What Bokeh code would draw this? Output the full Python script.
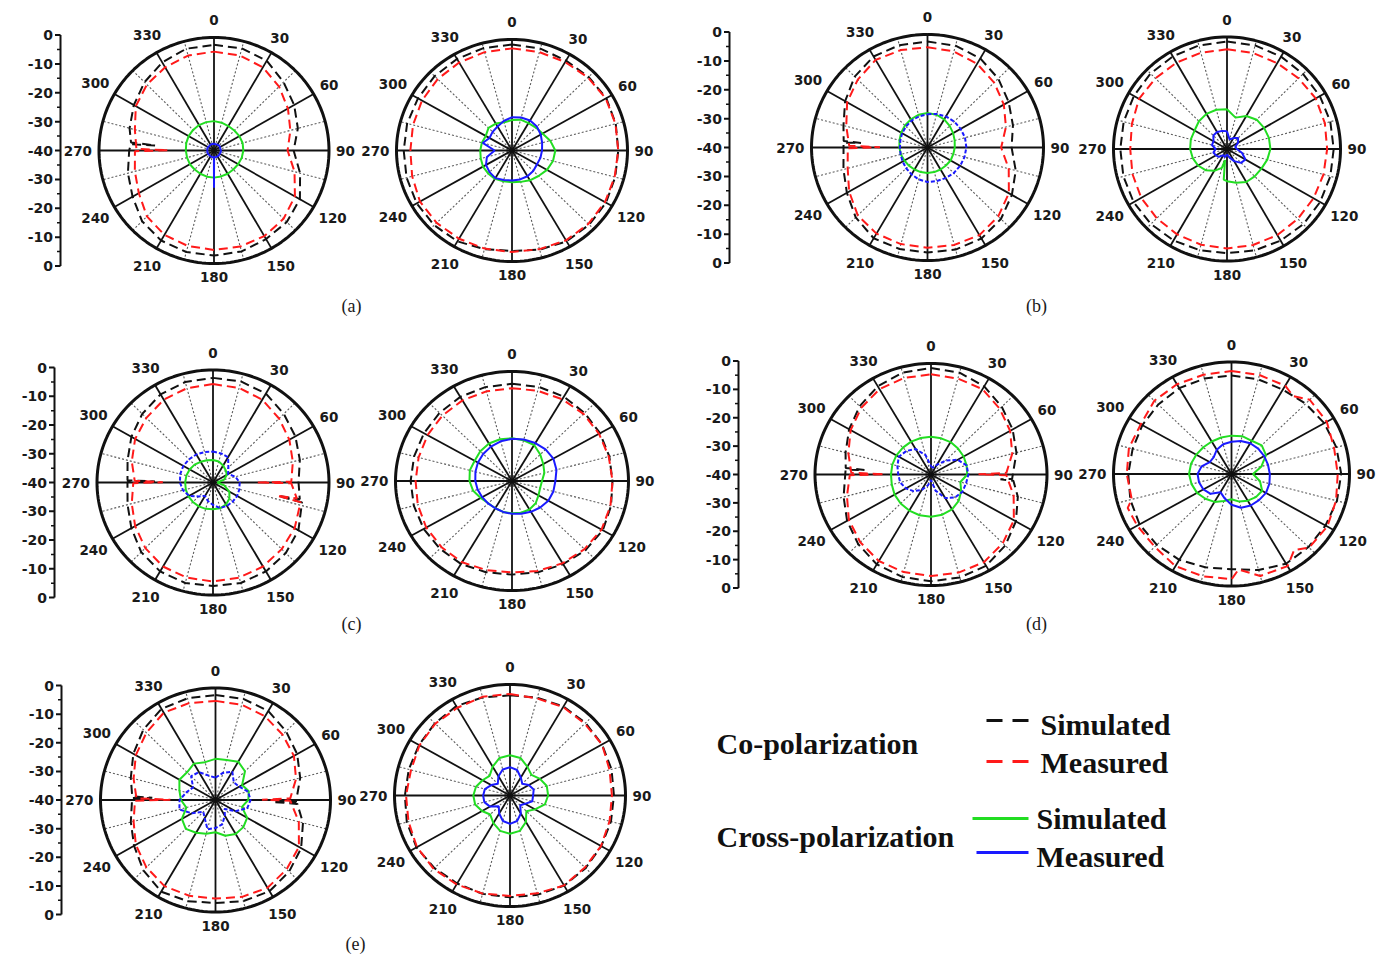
import math
from bokeh.plotting import figure
from bokeh.models import Range1d
from bokeh.core.properties import value
from bokeh.embed import file_html
from bokeh.resources import INLINE

# ---------------- data ----------------
ANGLES = list(range(0, 360, 15))          # degrees, clockwise from top
R_TICKS = [0, -10, -20, -30, -40]         # dB radial ticks
ANGLE_TICKS = list(range(0, 360, 30))
PANEL_LABELS = ["(a)", "(b)", "(c)", "(d)", "(e)"]
GROUPS = ["Co-polarization", "Cross-polarization"]
SERIES = ["Simulated", "Measured"]

# (a) left
A1_CO_SIM = [-2.6, -2.6, -3.3, -5.8, -7.8, -9.8, -12.3, -9.0, -5.5, -4.2, -3.8, -3.0,
             -2.8, -2.8, -3.2, -4.6, -7.3, -9.0, -10.5, -9.6, -7.8, -5.8, -4.0, -2.7]
A1_CO_SIM_NULL = ([274.4, 275, 275.6], [-11.0, -19.6, -11.0])
A1_CO_MEAS = [-5.0, -5.2, -6.0, -8.0, -10.3, -12.5, -14.4, -11.0, -7.5, -5.8, -5.0, -4.8,
              -4.8, -5.0, -5.5, -7.0, -9.8, -11.5, -12.5, -11.5, -8.6, -7.0, -6.0, -5.2]
A1_CO_MEAS_NULL = ([269.5, 270.3, 271.3], [-12.5, -24.0, -13.0])
A1_X_SIM = [-29.6, -29.8, -30.0, -30.0, -29.8, -29.7, -29.8, -30.0, -30.3, -30.5, -30.5, -30.5,
            -30.4, -30.4, -30.5, -30.5, -30.3, -30.3, -30.2, -30.0, -29.8, -29.7, -29.6, -29.6]
A1_X_MEAS = [-37.6, -37.7, -37.6, -37.5, -37.6, -37.7, -37.6, -37.6, -37.7, -37.6, -37.6, -37.6,
             -37.6, -37.6, -37.6, -37.7, -37.6, -37.6, -37.7, -37.6, -37.6, -37.7, -37.6, -37.6]
A1_X_MEAS_NULL = ([179.3, 180, 180.7], [-37.6, -26.8, -37.6])

# (a) right
A2_CO_SIM = [-1.8, -2.0, -2.6, -2.5, -2.3, -2.8, -3.2, -3.0, -2.4, -2.2, -2.2, -3.0,
             -3.8, -3.2, -2.2, -1.9, -1.9, -2.2, -2.5, -2.4, -2.4, -2.1, -1.9, -1.8]
A2_CO_MEAS = [-3.2, -3.3, -3.2, -2.8, -2.5, -2.9, -3.2, -3.2, -2.8, -2.6, -2.6, -3.2,
              -3.4, -3.4, -3.3, -3.1, -3.2, -4.2, -4.8, -4.5, -4.0, -3.6, -3.4, -3.3]
A2_X_SIM = [-29.0, -28.5, -28.6, -28.3, -27.8, -26.3, -25.0, -25.3, -26.0, -27.0, -27.6, -28.3,
            -28.6, -28.5, -28.2, -28.3, -28.4, -28.8, -29.0, -29.2, -29.5, -28.5, -28.8, -29.5]
A2_X_MEAS = [-28.0, -27.7, -27.5, -27.8, -28.5, -29.2, -29.6, -29.8, -30.0, -29.6, -29.3, -29.2,
             -29.2, -29.0, -28.5, -29.0, -29.6, -31.0, -34.0, -29.5, -31.0, -30.5, -30.0, -29.0]

# (b) left
B1_CO_SIM = [-2.5, -2.7, -3.6, -5.5, -7.7, -9.5, -11.0, -8.5, -6.4, -4.2, -2.8, -2.6,
             -2.8, -2.8, -2.9, -5.0, -7.9, -10.0, -11.0, -10.0, -7.2, -4.5, -2.8, -2.5]
B1_CO_SIM_NULL = ([273.4, 274, 274.6], [-11.0, -17.0, -11.0])
B1_CO_MEAS = [-4.5, -4.8, -5.8, -7.5, -9.6, -12.0, -14.6, -11.0, -7.6, -5.5, -4.2, -4.3,
              -4.5, -4.6, -4.8, -6.0, -8.8, -11.5, -12.5, -11.0, -8.0, -6.0, -4.2, -4.3]
B1_CO_MEAS_NULL = ([269.5, 270.3, 271.3], [-12.5, -23.6, -13.0])
B1_X_SIM = [-27.8, -28.0, -28.5, -29.2, -29.8, -30.3, -30.6, -30.8, -30.8, -31.0, -31.0, -31.0,
            -31.0, -31.0, -31.0, -30.9, -30.8, -30.5, -30.3, -30.0, -29.5, -29.0, -28.5, -28.0]
B1_X_MEAS = [-28.2, -27.7, -27.3, -27.0, -26.8, -26.6, -26.6, -26.8, -27.0, -27.2, -27.5, -27.7,
             -27.8, -28.3, -29.0, -29.6, -30.1, -30.4, -30.5, -30.3, -29.9, -29.5, -29.0, -28.6]

# (b) right
B2_CO_SIM = [-1.6, -1.7, -1.9, -2.1, -2.2, -2.3, -2.4, -2.3, -2.1, -2.0, -2.2, -2.5,
             -2.8, -2.6, -2.3, -2.1, -2.0, -2.2, -2.4, -2.3, -2.1, -1.9, -1.8, -1.7]
B2_CO_MEAS = [-4.4, -4.5, -4.6, -4.3, -3.9, -4.3, -4.7, -4.8, -4.8, -4.7, -4.5, -4.5,
              -4.5, -4.6, -4.8, -5.0, -5.1, -5.5, -5.9, -5.3, -4.2, -4.3, -4.4, -4.4]
B2_X_SIM = [-25.8, -28.4, -26.4, -25.2, -24.9, -24.7, -24.7, -25.3, -26.0, -26.2, -26.4, -27.5,
            -28.5, -33.0, -31.0, -29.3, -28.2, -27.5, -27.0, -26.8, -26.8, -26.0, -25.5, -25.5]
B2_X_SIM_NULL = ([186, 190], [-29.0, -36.0])
B2_X_MEAS = [-33.7, -36.5, -35.5, -34.5, -35.5, -37.0, -36.5, -34.5, -32.5, -33.0, -35.0, -37.0,
             -38.0, -37.0, -37.5, -36.0, -35.5, -35.0, -36.0, -34.5, -34.5, -33.2, -33.0, -33.3]

# (c) left
C1_CO_SIM = [-2.8, -2.8, -3.5, -5.5, -7.2, -9.0, -10.5, -8.0, -6.0, -4.5, -3.5, -3.0,
             -3.2, -3.0, -3.5, -5.0, -7.5, -9.5, -10.5, -9.5, -7.5, -5.5, -3.8, -3.0]
C1_CO_SIM_NULL = ([101.2, 102, 103, 270.4, 271, 271.6], [-9.5, -17.0, -8.5, -10.5, -20.0, -10.5])
C1_CO_MEAS = [-5.0, -5.2, -6.0, -7.8, -9.6, -11.5, -13.0, -10.0, -7.5, -6.5, -5.5, -5.0,
              -4.8, -5.0, -5.5, -7.0, -9.0, -11.0, -12.5, -11.0, -9.0, -7.5, -6.0, -5.3]
C1_CO_MEAS_NULL = ([89.4, 90, 90.6, 101.2, 102, 103, 269.5, 270.3, 271.3],
                   [-13.0, -25.0, -13.0, -10.5, -17.5, -9.0, -12.5, -22.7, -13.0])
C1_X_SIM = [-32.0, -32.3, -33.0, -33.8, -34.5, -36.0, -38.5, -36.0, -33.5, -32.0, -31.0, -30.5,
            -30.5, -30.3, -30.2, -30.2, -30.2, -30.3, -30.4, -30.5, -30.7, -31.0, -31.5, -31.8]
C1_X_MEAS = [-29.0, -29.3, -29.6, -32.5, -34.0, -32.0, -30.8, -30.6, -30.4, -30.4, -30.4, -30.6,
             -32.0, -33.2, -34.5, -33.0, -30.5, -29.3, -28.6, -28.3, -28.2, -28.3, -28.5, -28.8]

# (c) right
C2_CO_SIM = [-4.5, -4.4, -4.4, -4.8, -5.1, -5.4, -5.5, -4.8, -4.0, -4.3, -4.9, -5.5,
             -5.8, -5.5, -5.0, -5.0, -5.0, -5.1, -5.2, -5.2, -5.1, -4.8, -4.5, -4.5]
C2_CO_MEAS = [-6.1, -5.9, -5.5, -5.3, -5.5, -5.6, -5.5, -5.0, -4.5, -4.8, -5.3, -6.0,
              -6.6, -6.3, -5.7, -5.8, -6.0, -6.5, -6.9, -6.8, -6.5, -6.2, -6.0, -6.1]
C2_X_SIM = [-24.4, -24.6, -24.8, -26.3, -27.6, -28.5, -29.7, -30.0, -29.5, -28.5, -28.0, -28.0,
            -28.2, -28.3, -28.5, -28.5, -27.6, -26.2, -25.4, -25.0, -25.2, -24.6, -24.2, -24.2]
C2_X_MEAS = [-24.6, -24.3, -24.0, -23.7, -23.6, -24.2, -25.1, -25.3, -25.6, -26.3, -27.0, -27.6,
             -28.0, -28.3, -28.5, -28.4, -28.2, -27.8, -27.4, -27.0, -26.5, -26.0, -25.5, -25.0]

# (d) left
D1_CO_SIM = [-1.6, -2.0, -3.3, -5.5, -7.5, -9.5, -12.0, -9.0, -6.2, -3.8, -2.0, -1.6,
             -1.5, -1.8, -2.6, -4.5, -6.6, -8.8, -10.5, -9.5, -7.4, -5.2, -3.3, -2.0]
D1_CO_SIM_NULL = ([93.4, 94, 94.6, 273.4, 274, 274.6], [-12.0, -16.0, -11.5, -10.5, -17.0, -10.5])
D1_CO_MEAS = [-3.9, -4.2, -4.5, -6.5, -8.5, -11.0, -14.0, -10.5, -7.0, -5.0, -3.5, -3.4,
              -3.4, -3.6, -4.0, -5.5, -7.3, -10.0, -12.0, -10.5, -8.0, -6.0, -4.5, -4.0]
D1_CO_MEAS_NULL = ([88.7, 89.7, 90.5, 269.5, 270.3, 271.3],
                   [-14.0, -23.6, -14.0, -12.0, -24.0, -12.5])
D1_X_SIM = [-26.4, -26.5, -26.5, -26.8, -27.0, -27.3, -27.5, -29.5, -28.0, -26.5, -25.5, -25.0,
            -24.8, -24.8, -25.0, -25.2, -25.5, -26.0, -26.2, -26.2, -26.2, -26.3, -26.3, -26.4]
D1_X_MEAS = [-37.0, -37.5, -36.0, -32.9, -29.4, -27.3, -27.1, -27.5, -27.5, -28.3, -30.2, -34.0,
             -38.0, -36.0, -33.6, -31.5, -30.0, -29.0, -28.7, -28.0, -27.2, -28.0, -29.4, -32.8]

# (d) right
D2_CO_SIM = [-4.8, -5.0, -5.2, -4.5, -3.7, -3.2, -2.8, -3.0, -3.2, -3.1, -3.0, -4.5,
             -6.0, -5.5, -4.6, -4.2, -4.0, -4.5, -5.0, -5.3, -5.1, -4.9, -4.6, -4.7]
D2_CO_MEAS = [-3.2, -3.4, -3.6, -2.5, -2.7, -4.0, -4.0, -3.3, -2.5, -2.8, -2.0, -2.3,
              -2.4, -2.2, -2.0, -3.2, -3.1, -5.0, -4.5, -4.0, -4.5, -3.0, -3.0, -3.3]
D2_CO_MEAS_NULL = ([37, 142, 176, 251], [-5.2, -5.5, -5.8, -2.8])
D2_X_SIM = [-26.3, -26.0, -26.3, -25.5, -26.5, -29.5, -32.7, -30.0, -28.0, -28.3, -29.0, -29.8,
            -31.0, -30.0, -28.5, -27.5, -26.5, -26.0, -25.6, -25.8, -26.2, -26.5, -26.6, -26.5]
D2_X_MEAS = [-28.5, -27.8, -27.3, -27.2, -27.2, -27.2, -27.0, -26.7, -26.5, -26.8, -27.0, -27.5,
             -29.0, -31.0, -32.5, -30.0, -29.0, -28.6, -28.5, -29.5, -31.5, -31.5, -30.0, -29.0]

# (e) left
E1_CO_SIM = [-2.5, -2.6, -3.3, -5.3, -7.2, -9.5, -12.0, -8.5, -5.6, -3.8, -2.4, -2.6,
             -3.2, -2.6, -2.2, -4.5, -7.3, -9.5, -11.0, -9.5, -7.0, -4.5, -2.4, -2.4]
E1_CO_SIM_NULL = ([91.4, 92, 92.8, 271.4, 272, 272.6], [-12.0, -20.0, -11.5, -11.0, -18.0, -11.0])
E1_CO_MEAS = [-4.6, -4.8, -5.5, -7.0, -8.5, -11.0, -14.0, -10.0, -6.5, -5.0, -3.8, -4.2,
              -4.8, -4.6, -4.5, -6.0, -8.0, -10.5, -12.0, -10.5, -8.0, -6.0, -4.0, -4.2]
E1_CO_MEAS_NULL = ([88.7, 89.7, 90.5, 269.5, 270.3, 271.3],
                   [-14.0, -23.8, -14.0, -12.0, -24.3, -12.5])
E1_X_SIM = [-25.3, -25.2, -24.2, -25.5, -29.3, -28.0, -28.6, -30.5, -27.3, -26.3, -26.0, -26.8,
            -28.5, -27.5, -26.5, -25.4, -26.5, -29.5, -28.0, -27.0, -25.5, -26.0, -25.0, -26.0]
E1_X_MEAS = [-32.0, -30.0, -28.3, -31.0, -30.5, -28.3, -27.8, -28.6, -32.0, -35.5, -33.5, -31.0,
             -30.0, -29.2, -32.5, -34.0, -30.5, -27.0, -27.5, -29.5, -31.0, -28.0, -28.5, -31.0]

# (e) right
E2_CO_SIM = [-3.9, -3.5, -3.0, -3.0, -3.2, -3.6, -4.0, -3.8, -3.5, -3.0, -2.5, -3.0,
             -3.3, -3.3, -3.4, -3.0, -2.6, -3.0, -3.6, -3.7, -3.6, -3.2, -2.8, -3.4]
E2_CO_MEAS = [-3.4, -3.8, -3.2, -3.4, -3.2, -4.3, -4.7, -4.3, -3.6, -3.3, -2.6, -3.5,
              -3.8, -3.4, -3.0, -2.6, -2.8, -3.6, -4.0, -4.5, -3.8, -3.4, -3.5, -3.2]
E2_X_SIM = [-25.5, -26.0, -28.0, -29.5, -28.0, -26.8, -26.8, -27.5, -30.0, -32.0, -29.0, -26.8,
            -26.2, -26.8, -28.5, -30.3, -28.8, -27.5, -27.3, -27.8, -29.0, -30.0, -28.0, -26.0]
E2_X_MEAS = [-29.8, -30.5, -32.5, -34.0, -32.5, -31.5, -32.0, -32.0, -34.0, -35.0, -32.5, -30.5,
             -29.8, -30.5, -32.5, -34.5, -32.0, -30.8, -30.7, -31.0, -32.5, -34.0, -32.0, -30.3]

NONE = ([], [])

# ---------------- layout ----------------
PANELS = [
    dict(cx=213.5, cy=150, rx=115, ry=113, axis_x=60, dash_blue=False,
         s=[(A1_CO_SIM, A1_CO_SIM_NULL), (A1_CO_MEAS, A1_CO_MEAS_NULL), (A1_X_SIM, NONE), (A1_X_MEAS, A1_X_MEAS_NULL)]),
    dict(cx=511.5, cy=150, rx=115.5, ry=111, axis_x=None, dash_blue=False,
         s=[(A2_CO_SIM, NONE), (A2_CO_MEAS, NONE), (A2_X_SIM, NONE), (A2_X_MEAS, NONE)]),
    dict(cx=927, cy=147, rx=116, ry=113, axis_x=729, dash_blue=True,
         s=[(B1_CO_SIM, B1_CO_SIM_NULL), (B1_CO_MEAS, B1_CO_MEAS_NULL), (B1_X_SIM, NONE), (B1_X_MEAS, NONE)]),
    dict(cx=1226.5, cy=148.5, rx=113.5, ry=112, axis_x=None, dash_blue=False,
         s=[(B2_CO_SIM, NONE), (B2_CO_MEAS, NONE), (B2_X_SIM, B2_X_SIM_NULL), (B2_X_MEAS, NONE)]),
    dict(cx=212.5, cy=482, rx=116, ry=112.5, axis_x=54, dash_blue=True,
         s=[(C1_CO_SIM, C1_CO_SIM_NULL), (C1_CO_MEAS, C1_CO_MEAS_NULL), (C1_X_SIM, NONE), (C1_X_MEAS, NONE)]),
    dict(cx=511.5, cy=480.5, rx=116.5, ry=109.5, axis_x=None, dash_blue=False,
         s=[(C2_CO_SIM, NONE), (C2_CO_MEAS, NONE), (C2_X_SIM, NONE), (C2_X_MEAS, NONE)]),
    dict(cx=930.5, cy=474, rx=116, ry=111, axis_x=738, dash_blue=True,
         s=[(D1_CO_SIM, D1_CO_SIM_NULL), (D1_CO_MEAS, D1_CO_MEAS_NULL), (D1_X_SIM, NONE), (D1_X_MEAS, NONE)]),
    dict(cx=1231, cy=473.5, rx=118, ry=112, axis_x=None, dash_blue=False,
         s=[(D2_CO_SIM, NONE), (D2_CO_MEAS, D2_CO_MEAS_NULL), (D2_X_SIM, NONE), (D2_X_MEAS, NONE)]),
    dict(cx=215, cy=799.5, rx=115, ry=112, axis_x=61, dash_blue=True,
         s=[(E1_CO_SIM, E1_CO_SIM_NULL), (E1_CO_MEAS, E1_CO_MEAS_NULL), (E1_X_SIM, NONE), (E1_X_MEAS, NONE)]),
    dict(cx=509.5, cy=795, rx=115.5, ry=111, axis_x=None, dash_blue=False,
         s=[(E2_CO_SIM, NONE), (E2_CO_MEAS, NONE), (E2_X_SIM, NONE), (E2_X_MEAS, NONE)]),
]
LABEL_POS = [(351, 305), (1036, 305), (351, 623), (1036, 623), (355, 943)]

RMAX, RMIN = R_TICKS[0], R_TICKS[-1]
BLACK, RED, GREEN, BLUE = "#111111", "#ff1a1a", "#22dd22", "#1a1aff"
SANS = value("DejaVu Sans")
SERIF = value("Liberation Serif")
TICK_FS = 13.5


def merged(base, extra):
    ea, ev = extra
    pts = [(a, v) for a, v in zip(ANGLES, base) if all(abs(a - e) >= 3.5 for e in ea)]
    pts += list(zip(ea, ev))
    pts.sort()
    pts.append((pts[0][0] + 360, pts[0][1]))
    return [a for a, _ in pts], [v for _, v in pts]


def to_xy(pn, angs, dbs):
    xs, ys = [], []
    for a, d in zip(angs, dbs):
        f = max((d - RMIN) / (RMAX - RMIN), 0.0)
        t = math.radians(a)
        xs.append(pn["cx"] + f * pn["rx"] * math.sin(t))
        ys.append(pn["cy"] - f * pn["ry"] * math.cos(t))
    return xs, ys


p = figure(width=1385, height=955, x_range=Range1d(0, 1385), y_range=Range1d(955, 0),
           x_axis_type=None, y_axis_type=None, output_backend="svg", toolbar_location=None,
           min_border=0)
p.grid.visible = False
p.outline_line_color = None
p.background_fill_color = "white"
p.border_fill_color = "white"

for pn in PANELS:
    cx, cy, rx, ry = pn["cx"], pn["cy"], pn["rx"], pn["ry"]
    # spokes
    sx, sy, dx, dy = [], [], [], []
    for k in range(24):
        t = math.radians(k * 15)
        ex, ey = cx + rx * math.sin(t), cy - ry * math.cos(t)
        if k % 2 == 0:
            sx.append([cx, ex]); sy.append([cy, ey])
        else:
            dx.append([cx, ex]); dy.append([cy, ey])
    p.multi_line(dx, dy, line_color="#5a5a5a", line_width=1.1, line_dash="2 2")
    p.multi_line(sx, sy, line_color=BLACK, line_width=1.8)
    # outer ring
    ts = [math.radians(i) for i in range(0, 361, 2)]
    p.line([cx + rx * math.sin(t) for t in ts], [cy - ry * math.cos(t) for t in ts],
           line_color=BLACK, line_width=3)
    # angle labels
    lx, ly, lt = [], [], []
    for a in ANGLE_TICKS:
        t = math.radians(a)
        txt = str(a)
        w = 0.696 * TICK_FS * len(txt)
        ext = 0.5 * w * abs(math.sin(t)) + 5.5 * abs(math.cos(t))
        r = 7 + ext
        lx.append(cx + (rx + r) * math.sin(t))
        ly.append(cy - (ry + r + (5 if a == 0 else 1)) * math.cos(t))
        lt.append(txt)
    p.text(lx, ly, text=lt, text_font=SANS, text_font_style="bold", text_font_size=f"{TICK_FS}px",
           text_color="#1a1a1a", text_align="center", text_baseline="middle")
    # series
    styles = [dict(line_color=BLACK, line_dash="9 5", line_width=2),
              dict(line_color=RED, line_dash="9 5", line_width=2),
              dict(line_color=GREEN, line_width=2),
              dict(line_color=BLUE, line_width=2, line_dash=("4 2" if pn["dash_blue"] else "solid"))]
    for (base, extra), st in zip(pn["s"], styles):
        angs, dbs = merged(base, extra)
        xs, ys = to_xy(pn, angs, dbs)
        p.line(xs, ys, **st)
    # radial axis
    if pn["axis_x"] is not None:
        ax = pn["axis_x"]
        half = ry + 2.5
        p.line([ax, ax], [cy - half, cy + half], line_color=BLACK, line_width=2)
        tx0, tx1, ty = [], [], []
        mx0, mx1, my = [], [], []
        labs_x, labs_y, labs = [], [], []
        for sgn in (-1, 1):
            for d in R_TICKS:
                if sgn == 1 and d == RMIN:
                    continue
                yy = cy + sgn * (d - RMIN) / (RMAX - RMIN) * half
                tx0.append(ax - 5.5); tx1.append(ax); ty.append(yy)
                labs_x.append(ax - 7.5); labs_y.append(yy); labs.append(str(d))
                if d != RMIN:
                    ym = cy + sgn * (d - 5 - RMIN) / (RMAX - RMIN) * half
                    mx0.append(ax - 3.5); mx1.append(ax); my.append(ym)
        p.segment(tx0, ty, tx1, ty, line_color=BLACK, line_width=2)
        p.segment(mx0, my, mx1, my, line_color=BLACK, line_width=1.5)
        p.text(labs_x, labs_y, text=labs, text_font=SANS, text_font_style="bold",
               text_font_size="14px", text_color="#1a1a1a", text_align="right",
               text_baseline="middle")

# panel labels
p.text([x for x, _ in LABEL_POS], [y for _, y in LABEL_POS], text=PANEL_LABELS,
       text_font=SERIF, text_font_size="18px", text_color="#1a1a1a",
       text_align="center", text_baseline="middle")

# legend
p.text([716, 716], [743, 836], text=GROUPS, text_font=SERIF, text_font_style="bold",
       text_font_size="30px", text_color="#111111", text_align="left", text_baseline="middle")
p.line([986, 1028], [720, 720], line_color=BLACK, line_width=3, line_dash="16 10")
p.line([986, 1028], [761, 761], line_color=RED, line_width=3, line_dash="16 10")
p.line([972, 1028], [818, 818], line_color=GREEN, line_width=3)
p.line([976, 1028], [852, 852], line_color=BLUE, line_width=3)
p.text([1040, 1040, 1036, 1036], [724, 762, 818, 856], text=SERIES + SERIES,
       text_font=SERIF, text_font_style="bold", text_font_size="30px", text_color="#111111",
       text_align="left", text_baseline="middle")

open("out.html", "w").write(file_html(p, INLINE))
